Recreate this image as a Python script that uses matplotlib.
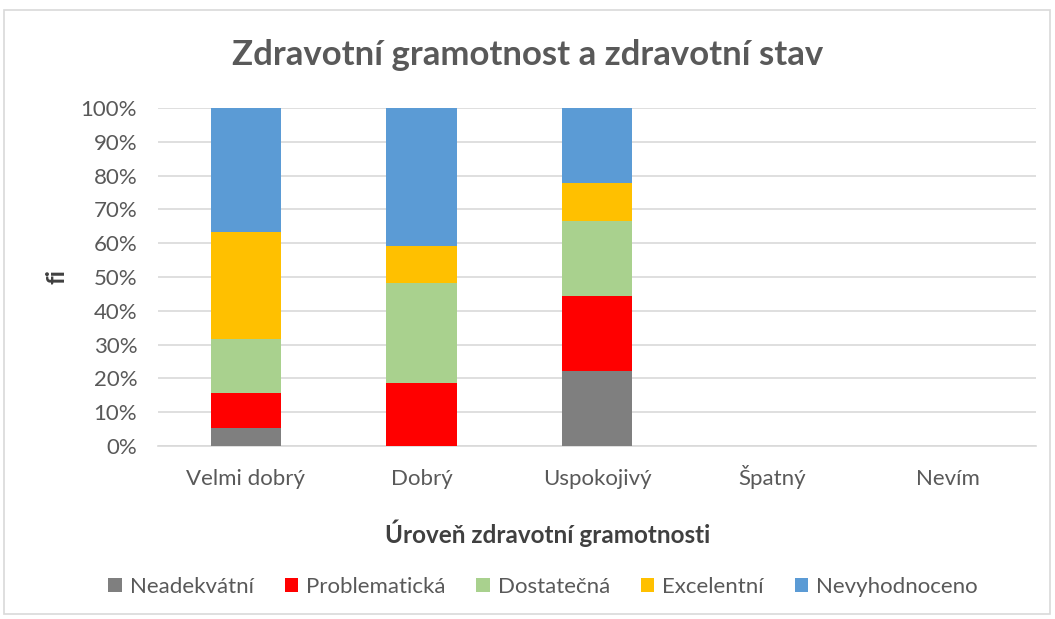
import matplotlib
matplotlib.use("Agg")
import matplotlib.pyplot as plt
import numpy as np
from matplotlib.patches import Rectangle
from matplotlib.ticker import PercentFormatter

plt.rcParams['font.family'] = ['Lato', 'DejaVu Sans']

categories = ["Velmi dobrý", "Dobrý", "Uspokojivý", "Špatný", "Nevím"]
series = ["Neadekvátní", "Problematická", "Dostatečná", "Excelentní", "Nevyhodnoceno"]
colors = ["#7f7f7f", "#ff0000", "#a9d18e", "#ffc000", "#5b9bd5"]

# podily v %
neadekvatni   = [5.3, 0.0, 22.2, 0, 0]
problematicka = [10.5, 18.5, 22.2, 0, 0]
dostatecna    = [15.8, 29.6, 22.3, 0, 0]
excelentni    = [31.6, 11.2, 11.1, 0, 0]
nevyhodnoceno = [36.8, 40.7, 22.2, 0, 0]

data = [neadekvatni, problematicka, dostatecna, excelentni, nevyhodnoceno]

fig = plt.figure(figsize=(10.55, 6.19), dpi=100)
W, H = 1055, 619
ax = fig.add_axes([158 / W, 1 - 446 / H, (1036 - 158) / W, (446 - 108) / H])

x = np.arange(len(categories))
bottom = np.zeros(len(categories))
for vals, name, c in zip(data, series, colors):
    vals = np.array(vals, dtype=float)
    ax.bar(x, vals, 0.4, bottom=bottom, color=c, label=name, zorder=3)
    bottom += vals

ax.set_xlim(-0.5, len(categories) - 0.5)
ax.set_ylim(0, 100)
ax.set_yticks(np.arange(0, 101, 10))
ax.yaxis.set_major_formatter(PercentFormatter(decimals=0))
ax.set_xticks(x)
ax.set_xticklabels(categories, va='baseline')
ax.grid(axis='y', color='#d9d9d9', linewidth=1.2, zorder=0)
for s in ['top', 'right', 'left']:
    ax.spines[s].set_visible(False)
ax.spines['bottom'].set_color('#d9d9d9')
ax.spines['bottom'].set_linewidth(1.2)
ax.tick_params(axis='both', length=0, labelsize=16, colors='#595959')
ax.tick_params(axis='y', pad=15)
ax.tick_params(axis='x', pad=28)

fig.text(0.5, 1 - 55 / H, "Zdravotní gramotnost a zdravotní stav", ha='center', va='center',
         fontsize=25, fontweight='bold', color='#595959')
fig.text(548 / W, 1 - 533 / H, "Úroveň zdravotní gramotnosti", ha='center', va='center',
         fontsize=17.5, fontweight='bold', color='#404040')
fig.text(57 / W, 1 - 277 / H, "fi", ha='center', va='center', rotation=90,
         fontsize=17.5, fontweight='bold', color='#404040')

leg = fig.legend(loc='center', bbox_to_anchor=(543 / W, 1 - 587 / H), ncol=5, frameon=False,
                 fontsize=16, handlelength=0.6, handleheight=0.6, handletextpad=0.35,
                 columnspacing=1.4)
for t in leg.get_texts():
    t.set_color('#595959')

fig.patches.append(Rectangle((4 / W, 1 - 614 / H), 1046 / W, 604 / H, transform=fig.transFigure,
                             fill=False, edgecolor='#d9d9d9', linewidth=1.2))

fig.savefig("out.png", dpi=100, facecolor='white')
